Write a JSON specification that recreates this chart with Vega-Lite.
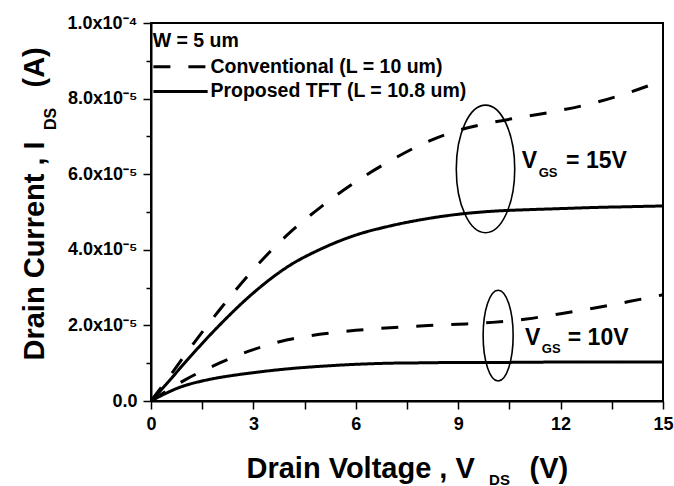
{
  "$schema": "https://vega.github.io/schema/vega-lite/v6.json",
  "width": 512,
  "height": 378,
  "autosize": {"type": "none"},
  "padding": {"left": 151, "top": 23, "right": 11, "bottom": 85},
  "background": "white",
  "config": {
    "font": "Liberation Sans",
    "view": {"stroke": "black", "strokeWidth": 2},
    "axis": {
      "labelFont": "Liberation Sans",
      "titleFont": "Liberation Sans",
      "labelFontWeight": "bold",
      "titleFontWeight": "bold",
      "labelColor": "black",
      "titleColor": "black",
      "tickColor": "black",
      "domainColor": "black",
      "domainWidth": 2,
      "tickWidth": 1.5,
      "labelFontSize": 18,
      "grid": false
    }
  },
  "datasets": {
    "curves": [
      {"curve": "Conv15", "device": "Conventional", "V": 0, "I": 0},
      {"curve": "Conv15", "device": "Conventional", "V": 0.5, "I": 0.6e-5},
      {"curve": "Conv15", "device": "Conventional", "V": 1, "I": 1.22e-5},
      {"curve": "Conv15", "device": "Conventional", "V": 2, "I": 2.4e-5},
      {"curve": "Conv15", "device": "Conventional", "V": 3, "I": 3.48e-5},
      {"curve": "Conv15", "device": "Conventional", "V": 4, "I": 4.4e-5},
      {"curve": "Conv15", "device": "Conventional", "V": 5, "I": 5.15e-5},
      {"curve": "Conv15", "device": "Conventional", "V": 6, "I": 5.8e-5},
      {"curve": "Conv15", "device": "Conventional", "V": 7, "I": 6.35e-5},
      {"curve": "Conv15", "device": "Conventional", "V": 8, "I": 6.82e-5},
      {"curve": "Conv15", "device": "Conventional", "V": 9, "I": 7.16e-5},
      {"curve": "Conv15", "device": "Conventional", "V": 10, "I": 7.37e-5},
      {"curve": "Conv15", "device": "Conventional", "V": 11, "I": 7.53e-5},
      {"curve": "Conv15", "device": "Conventional", "V": 12, "I": 7.69e-5},
      {"curve": "Conv15", "device": "Conventional", "V": 13, "I": 7.89e-5},
      {"curve": "Conv15", "device": "Conventional", "V": 14, "I": 8.16e-5},
      {"curve": "Conv15", "device": "Conventional", "V": 15, "I": 8.48e-5},
      {"curve": "Prop15", "device": "Proposed", "V": 0, "I": 0},
      {"curve": "Prop15", "device": "Proposed", "V": 0.5, "I": 0.5e-5},
      {"curve": "Prop15", "device": "Proposed", "V": 1, "I": 1.02e-5},
      {"curve": "Prop15", "device": "Proposed", "V": 2, "I": 2.0e-5},
      {"curve": "Prop15", "device": "Proposed", "V": 3, "I": 2.86e-5},
      {"curve": "Prop15", "device": "Proposed", "V": 4, "I": 3.55e-5},
      {"curve": "Prop15", "device": "Proposed", "V": 5, "I": 4.03e-5},
      {"curve": "Prop15", "device": "Proposed", "V": 6, "I": 4.39e-5},
      {"curve": "Prop15", "device": "Proposed", "V": 7, "I": 4.63e-5},
      {"curve": "Prop15", "device": "Proposed", "V": 8, "I": 4.81e-5},
      {"curve": "Prop15", "device": "Proposed", "V": 9, "I": 4.94e-5},
      {"curve": "Prop15", "device": "Proposed", "V": 10, "I": 5.02e-5},
      {"curve": "Prop15", "device": "Proposed", "V": 11, "I": 5.06e-5},
      {"curve": "Prop15", "device": "Proposed", "V": 12, "I": 5.09e-5},
      {"curve": "Prop15", "device": "Proposed", "V": 13, "I": 5.12e-5},
      {"curve": "Prop15", "device": "Proposed", "V": 14, "I": 5.14e-5},
      {"curve": "Prop15", "device": "Proposed", "V": 15, "I": 5.16e-5},
      {"curve": "Conv10", "device": "Conventional", "V": 0, "I": 0},
      {"curve": "Conv10", "device": "Conventional", "V": 0.5, "I": 0.29e-5},
      {"curve": "Conv10", "device": "Conventional", "V": 1, "I": 0.56e-5},
      {"curve": "Conv10", "device": "Conventional", "V": 2, "I": 1.0e-5},
      {"curve": "Conv10", "device": "Conventional", "V": 3, "I": 1.36e-5},
      {"curve": "Conv10", "device": "Conventional", "V": 4, "I": 1.62e-5},
      {"curve": "Conv10", "device": "Conventional", "V": 5, "I": 1.77e-5},
      {"curve": "Conv10", "device": "Conventional", "V": 6, "I": 1.87e-5},
      {"curve": "Conv10", "device": "Conventional", "V": 7, "I": 1.94e-5},
      {"curve": "Conv10", "device": "Conventional", "V": 8, "I": 1.99e-5},
      {"curve": "Conv10", "device": "Conventional", "V": 9, "I": 2.03e-5},
      {"curve": "Conv10", "device": "Conventional", "V": 10, "I": 2.08e-5},
      {"curve": "Conv10", "device": "Conventional", "V": 11, "I": 2.17e-5},
      {"curve": "Conv10", "device": "Conventional", "V": 12, "I": 2.31e-5},
      {"curve": "Conv10", "device": "Conventional", "V": 13, "I": 2.46e-5},
      {"curve": "Conv10", "device": "Conventional", "V": 14, "I": 2.63e-5},
      {"curve": "Conv10", "device": "Conventional", "V": 15, "I": 2.81e-5},
      {"curve": "Prop10", "device": "Proposed", "V": 0, "I": 0},
      {"curve": "Prop10", "device": "Proposed", "V": 0.25, "I": 0.12e-5},
      {"curve": "Prop10", "device": "Proposed", "V": 0.5, "I": 0.23e-5},
      {"curve": "Prop10", "device": "Proposed", "V": 0.75, "I": 0.33e-5},
      {"curve": "Prop10", "device": "Proposed", "V": 1, "I": 0.41e-5},
      {"curve": "Prop10", "device": "Proposed", "V": 1.5, "I": 0.53e-5},
      {"curve": "Prop10", "device": "Proposed", "V": 2, "I": 0.62e-5},
      {"curve": "Prop10", "device": "Proposed", "V": 2.5, "I": 0.69e-5},
      {"curve": "Prop10", "device": "Proposed", "V": 3, "I": 0.75e-5},
      {"curve": "Prop10", "device": "Proposed", "V": 4, "I": 0.85e-5},
      {"curve": "Prop10", "device": "Proposed", "V": 5, "I": 0.92e-5},
      {"curve": "Prop10", "device": "Proposed", "V": 6, "I": 0.97e-5},
      {"curve": "Prop10", "device": "Proposed", "V": 7, "I": 1.0e-5},
      {"curve": "Prop10", "device": "Proposed", "V": 8, "I": 1.01e-5},
      {"curve": "Prop10", "device": "Proposed", "V": 9, "I": 1.02e-5},
      {"curve": "Prop10", "device": "Proposed", "V": 10, "I": 1.02e-5},
      {"curve": "Prop10", "device": "Proposed", "V": 12, "I": 1.03e-5},
      {"curve": "Prop10", "device": "Proposed", "V": 15, "I": 1.03e-5}
    ],
    "legendLines": [
      {"device": "Conventional", "V": 0.07, "I": 8.84e-5},
      {"device": "Conventional", "V": 1.66, "I": 8.84e-5},
      {"device": "Proposed", "V": 0.07, "I": 8.19e-5},
      {"device": "Proposed", "V": 1.66, "I": 8.19e-5}
    ],
    "legendText": [
      {"V": 0.05, "I": 9.52e-5, "text": "W = 5 um"},
      {"V": 1.74, "I": 8.84e-5, "text": "Conventional (L = 10 um)"},
      {"V": 1.74, "I": 8.19e-5, "text": "Proposed TFT (L = 10.8 um)"}
    ],
    "ellipse15": [{"V": 9.8, "I": 6.14e-5}],
    "ellipse10": [{"V": 10.17, "I": 1.73e-5}],
    "bigText": [
      {"V": 10.86, "I": 6.16e-5, "text": "V"},
      {"V": 12.16, "I": 6.16e-5, "text": "= 15V"},
      {"V": 10.96, "I": 1.47e-5, "text": "V"},
      {"V": 12.21, "I": 1.47e-5, "text": "= 10V"}
    ],
    "subText": [
      {"V": 11.36, "I": 5.92e-5, "text": "GS"},
      {"V": 11.45, "I": 1.26e-5, "text": "GS"}
    ]
  },
  "resolve": {"axis": {"x": "independent", "y": "independent"}},
  "layer": [
    {
      "data": {"name": "curves"},
      "mark": {"type": "line", "color": "black", "strokeWidth": 3, "interpolate": "monotone", "strokeCap": "butt"},
      "encoding": {
        "x": {
          "field": "V", "type": "quantitative",
          "scale": {"domain": [0, 15], "nice": false, "zero": false},
          "axis": {
            "orient": "bottom",
            "values": [0, 1.5, 3, 4.5, 6, 7.5, 9, 10.5, 12, 13.5, 15],
            "labelExpr": "datum.value % 3 == 0 ? datum.label : ''",
            "labelFlush": false,
            "labelOverlap": false,
            "tickSize": 8,
            "labelPadding": 6,
            "title": "Drain Voltage , V",
            "titleFontSize": 29,
            "titleX": 95,
            "titleY": 76,
            "titleBaseline": "alphabetic",
            "titleAlign": "left"
          }
        },
        "y": {
          "field": "I", "type": "quantitative",
          "scale": {"domain": [0, 0.0001], "nice": false},
          "axis": {
            "orient": "left",
            "values": [0, 0.00001, 0.00002, 0.00003, 0.00004, 0.00005, 0.00006, 0.00007, 0.00008, 0.00009, 0.0001],
            "labelExpr": "round(datum.value*1e5) == 0 ? '0.0' : (round(datum.value*1e5) == 10 ? '1.0x10\u207b\u2074' : (round(datum.value*1e5) % 2 == 0 ? format(datum.value*1e5, '.1f') + 'x10\u207b\u2075' : ''))",
            "labelOverlap": false,
            "tickSize": {"condition": {"test": "round(datum.value*1e5) % 2 == 0", "value": 8}, "value": 5},
            "labelPadding": 6,
            "title": "Drain Current , I",
            "titleFontSize": 29,
            "titleX": -108,
            "titleY": 337,
            "titleAngle": 270,
            "titleBaseline": "alphabetic",
            "titleAlign": "left"
          }
        },
        "strokeDash": {
          "field": "device", "type": "nominal",
          "scale": {"domain": ["Conventional", "Proposed"], "range": [[17, 18], [1, 0]]},
          "legend": null
        },
        "detail": {"field": "curve", "type": "nominal"}
      }
    },
    {
      "data": {"name": "ellipse15"},
      "mark": {
        "type": "point", "filled": false, "stroke": "black", "strokeWidth": 1.6, "opacity": 1,
        "shape": "M0,-1 C0.253,-1 0.458,-0.552 0.458,0 C0.458,0.552 0.253,1 0,1 C-0.253,1 -0.458,0.552 -0.458,0 C-0.458,-0.552 -0.253,-1 0,-1 Z",
        "size": 16282
      },
      "encoding": {
        "x": {
          "field": "V", "type": "quantitative",
          "axis": {
            "orient": "bottom", "labels": false, "ticks": false, "domain": false,
            "title": "DS", "titleFontSize": 15, "titleX": 348, "titleY": 83,
            "titleBaseline": "alphabetic", "titleAlign": "center"
          }
        },
        "y": {
          "field": "I", "type": "quantitative",
          "axis": {
            "orient": "left", "labels": false, "ticks": false, "domain": false,
            "title": "DS", "titleFontSize": 16, "titleX": -96, "titleY": 95.5, "titleAngle": 270,
            "titleBaseline": "alphabetic", "titleAlign": "center"
          }
        }
      }
    },
    {
      "data": {"name": "ellipse10"},
      "mark": {
        "type": "point", "filled": false, "stroke": "black", "strokeWidth": 1.6, "opacity": 1,
        "shape": "M0,-1 C0.183,-1 0.331,-0.552 0.331,0 C0.331,0.552 0.183,1 0,1 C-0.183,1 -0.331,0.552 -0.331,0 C-0.331,-0.552 -0.183,-1 0,-1 Z",
        "size": 8226
      },
      "encoding": {
        "x": {
          "field": "V", "type": "quantitative",
          "axis": {
            "orient": "bottom", "labels": false, "ticks": false, "domain": false,
            "title": "(V)", "titleFontSize": 29, "titleX": 378, "titleY": 76,
            "titleBaseline": "alphabetic", "titleAlign": "left"
          }
        },
        "y": {
          "field": "I", "type": "quantitative",
          "axis": {
            "orient": "left", "labels": false, "ticks": false, "domain": false,
            "title": "(A)", "titleFontSize": 29, "titleX": -108, "titleY": 64, "titleAngle": 270,
            "titleBaseline": "alphabetic", "titleAlign": "left"
          }
        }
      }
    },
    {
      "data": {"name": "legendLines"},
      "mark": {"type": "line", "color": "black", "strokeWidth": 3, "strokeCap": "butt"},
      "encoding": {
        "x": {"field": "V", "type": "quantitative", "axis": null},
        "y": {"field": "I", "type": "quantitative", "axis": null},
        "strokeDash": {"field": "device", "type": "nominal", "legend": null},
        "detail": {"field": "device", "type": "nominal"}
      }
    },
    {
      "data": {"name": "legendText"},
      "mark": {"type": "text", "align": "left", "baseline": "middle", "fontSize": 19.5, "fontWeight": "bold", "font": "Liberation Sans", "color": "black"},
      "encoding": {
        "x": {"field": "V", "type": "quantitative", "axis": null},
        "y": {"field": "I", "type": "quantitative", "axis": null},
        "text": {"field": "text", "type": "nominal"}
      }
    },
    {
      "data": {"name": "bigText"},
      "mark": {"type": "text", "align": "left", "baseline": "alphabetic", "fontSize": 23, "fontWeight": "bold", "font": "Liberation Sans", "color": "black"},
      "encoding": {
        "x": {"field": "V", "type": "quantitative", "axis": null},
        "y": {"field": "I", "type": "quantitative", "axis": null},
        "text": {"field": "text", "type": "nominal"}
      }
    },
    {
      "data": {"name": "subText"},
      "mark": {"type": "text", "align": "left", "baseline": "alphabetic", "fontSize": 13, "fontWeight": "bold", "font": "Liberation Sans", "color": "black"},
      "encoding": {
        "x": {"field": "V", "type": "quantitative", "axis": null},
        "y": {"field": "I", "type": "quantitative", "axis": null},
        "text": {"field": "text", "type": "nominal"}
      }
    }
  ]
}
